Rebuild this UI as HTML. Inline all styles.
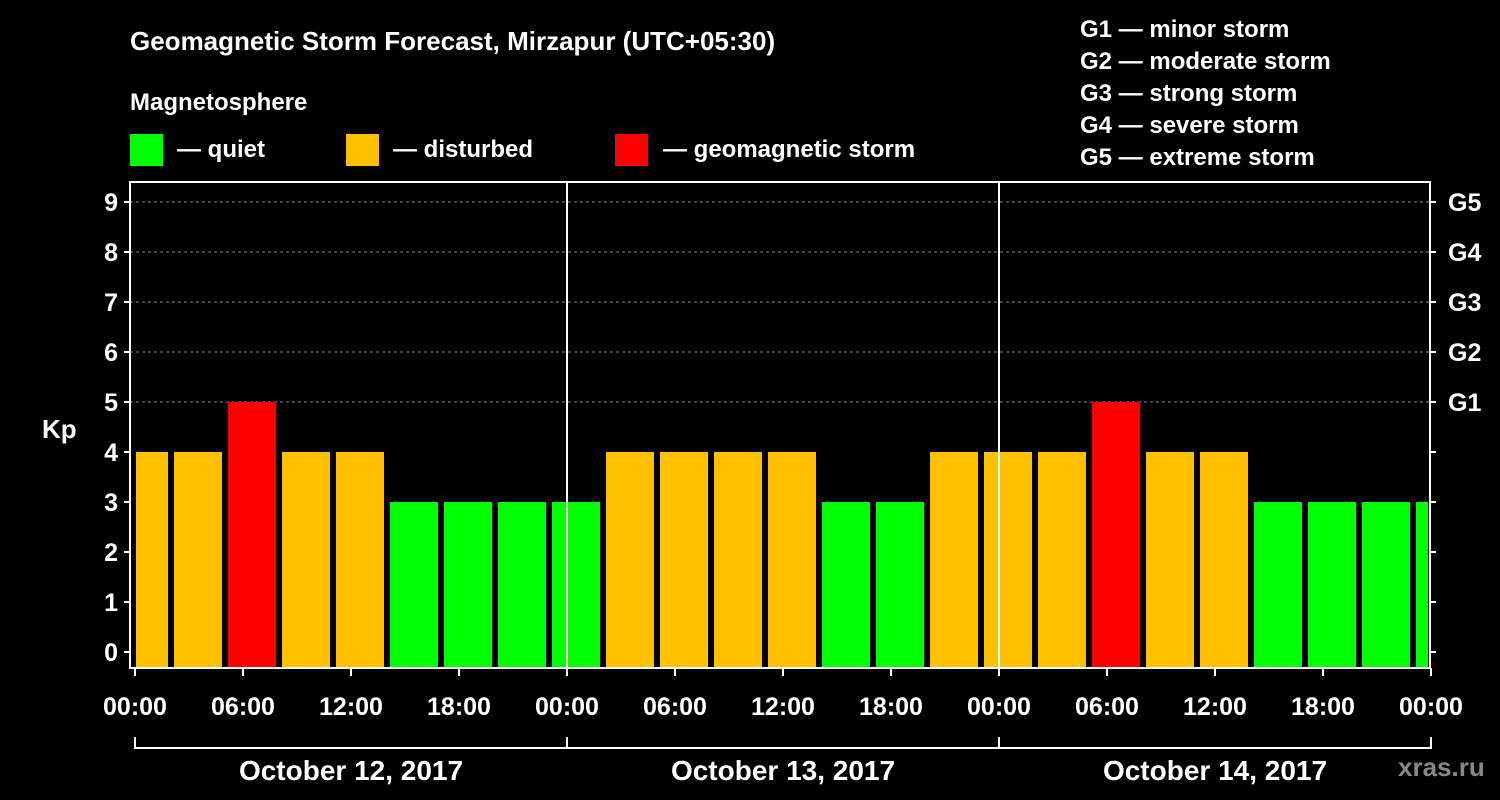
<!DOCTYPE html>
<html><head><meta charset="utf-8"><style>
html,body{margin:0;padding:0;background:#000;}
svg{display:block;font-family:"Liberation Sans",Arial,sans-serif;font-weight:bold;}
</style></head><body>
<svg id="chart" width="1500" height="800" viewBox="0 0 1500 800">
<rect width="1500" height="800" fill="#000"/>
<text x="130" y="50" fill="#fff" font-size="26">Geomagnetic Storm Forecast, Mirzapur (UTC+05:30)</text>
<text x="130" y="110" fill="#fff" font-size="24">Magnetosphere</text>
<g><rect x="130" y="134" width="33" height="32" fill="#00ff00"/><text x="177" y="157" fill="#fff" font-size="24">— quiet</text></g>
<g><rect x="346" y="134" width="33" height="32" fill="#ffc000"/><text x="393" y="157" fill="#fff" font-size="24">— disturbed</text></g>
<g><rect x="615" y="134" width="33" height="32" fill="#ff0000"/><text x="663" y="157" fill="#fff" font-size="24">— geomagnetic storm</text></g>
<g fill="#fff" font-size="24">
<text x="1080" y="37">G1 — minor storm</text>
<text x="1080" y="69">G2 — moderate storm</text>
<text x="1080" y="101">G3 — strong storm</text>
<text x="1080" y="133">G4 — severe storm</text>
<text x="1080" y="165">G5 — extreme storm</text>
</g>
<text x="42" y="438" fill="#fff" font-size="26">Kp</text>
<text x="1398" y="776" fill="#888" font-size="26">xras.ru</text>
<g id="plot"></g>
</svg>
<script>
const kpValues=[4,4,5,4,4,3,3,3,3,4,4,4,4,3,3,4,4,4,5,4,4,3,3,3,3];
const yTicks=[0,1,2,3,4,5,6,7,8,9];
const gLabels=["G1","G2","G3","G4","G5"];
const xTickLabels=["00:00","06:00","12:00","18:00","00:00","06:00","12:00","18:00","00:00","06:00","12:00","18:00","00:00","06:00","12:00","18:00","00:00"];
const dayLabels=["October 12, 2017","October 13, 2017","October 14, 2017"];
const NS="http://www.w3.org/2000/svg";
const g=document.getElementById('plot');
const L=130,R=1430,T=182,B=668;
const y=k=>652-50*k;
const x=h=>135+18*h; // local hours from start
function mk(tag,a,parent){const e=document.createElementNS(NS,tag);for(const k in a)e.setAttribute(k,a[k]);(parent||g).appendChild(e);return e;}
// grid
for(let k=5;k<=9;k++){const e=mk('line',{x1:L,x2:R,y1:y(k),y2:y(k),stroke:'#888','stroke-dasharray':'3,3','stroke-width':1});

}
// bars
kpValues.forEach((v,i)=>{
 const b0=x(2+3*(i-1));
 let x0=Math.max(b0+3,L+6),x1=Math.min(b0+51,R-2);
 const col=v>=5?'#ff0000':(v>=4?'#ffc000':'#00ff00');
 const e=mk('rect',{x:x0,y:y(v),width:x1-x0,height:B-y(v),fill:col});
 
 
});
// day separators
[1,2].forEach(d=>{const e=mk('line',{x1:x(24*d),x2:x(24*d),y1:T,y2:B,stroke:'#fff','stroke-width':2});

});
// frame
const fr=mk('rect',{x:L,y:T,width:R-L,height:B-T,fill:'none',stroke:'#fff','stroke-width':2});


// y ticks
yTicks.forEach(k=>{
 mk('line',{x1:L-6,x2:L,y1:y(k),y2:y(k),stroke:'#fff','stroke-width':2});
 mk('line',{x1:R,x2:R+6,y1:y(k),y2:y(k),stroke:'#fff','stroke-width':2});
 const t=mk('text',{x:L-12,y:y(k)+9,fill:'#fff','font-size':25,'text-anchor':'end'});t.textContent=k;
 
 
});
gLabels.forEach((s,i)=>{const t=mk('text',{x:R+18,y:y(5+i)+9,fill:'#fff','font-size':25});t.textContent=s;
 
 });
// x ticks
xTickLabels.forEach((s,i)=>{const xx=x(6*i);
 mk('line',{x1:xx,x2:xx,y1:B,y2:B+8,stroke:'#fff','stroke-width':2});
 const t=mk('text',{x:xx,y:715,fill:'#fff','font-size':25,'text-anchor':'middle'});t.textContent=s;
 
 });
// date bracket
mk('path',{d:`M${x(0)} 737V748H${x(72)}V737`,fill:'none',stroke:'#fff','stroke-width':2});
[1,2].forEach(d=>mk('line',{x1:x(24*d),x2:x(24*d),y1:737,y2:748,stroke:'#fff','stroke-width':2}));
dayLabels.forEach((s,i)=>{const t=mk('text',{x:x(24*i+12),y:780,fill:'#fff','font-size':28,'text-anchor':'middle'});t.textContent=s;
 
 });
</script>
</body></html>
